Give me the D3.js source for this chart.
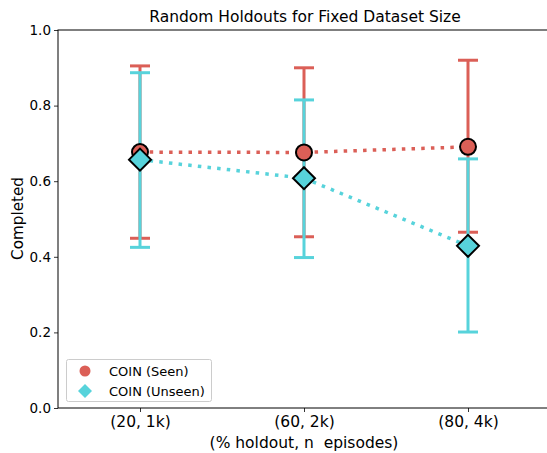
<!DOCTYPE html>
<html><head><meta charset="utf-8">
<script src="https://cdn.jsdelivr.net/npm/d3@7"></script>
<style>body{margin:0;background:#fff}text{font-family:"DejaVu Sans",sans-serif;fill:#000}</style>
</head><body>
<script>
const categories = ["(20, 1k)", "(60, 2k)", "(80, 4k)"];
const seenMean = [0.677, 0.676, 0.691];
const seenLow = [0.449, 0.453, 0.465];
const seenHigh = [0.905, 0.900, 0.920];
const unseenMean = [0.657, 0.608, 0.429];
const unseenLow = [0.425, 0.398, 0.201];
const unseenHigh = [0.887, 0.815, 0.659];
const yTicks = [0.0, 0.2, 0.4, 0.6, 0.8, 1.0];
const seriesNames = ["COIN (Seen)", "COIN (Unseen)"];
const colors = ["#db5f57", "#57d3db"];

const W = 547, H = 453;
const svg = d3.select("body").append("svg").attr("width", W).attr("height", H);
const x = d3.scaleLinear().domain([-0.5, 2.5]).range([58, 550]);
const y = d3.scaleLinear().domain([0, 1]).range([408, 30]);

const series = [
  {name: seriesNames[0], mean: seenMean, low: seenLow, high: seenHigh, color: colors[0], shape: "circle"},
  {name: seriesNames[1], mean: unseenMean, low: unseenLow, high: unseenHigh, color: colors[1], shape: "diamond"}
];

// error bars
series.forEach(s => {
  const g = svg.append("g");
  categories.forEach((c, i) => {
    g.append("line").attr("x1", x(i)).attr("x2", x(i)).attr("y1", y(s.low[i])).attr("y2", y(s.high[i]))
      .attr("stroke", s.color).attr("stroke-width", 3);
    [s.low[i], s.high[i]].forEach(v => {
      g.append("line").attr("x1", x(i) - 10).attr("x2", x(i) + 10).attr("y1", y(v)).attr("y2", y(v))
        .attr("stroke", s.color).attr("stroke-width", 3);
    });
  });
});

// lines + markers
const line = d3.line().x((d, i) => x(i)).y(d => y(d));
series.forEach(s => {
  svg.append("path").attr("d", line(s.mean)).attr("fill", "none").attr("stroke", s.color)
    .attr("stroke-width", 3.5).attr("stroke-dasharray", "3.5,6.2");
});
series.forEach(s => {
  s.mean.forEach((v, i) => {
    if (s.shape === "circle") {
      svg.append("circle").attr("cx", x(i)).attr("cy", y(v)).attr("r", 8)
        .attr("fill", s.color).attr("stroke", "#000").attr("stroke-width", 2);
    } else {
      const r = 11;
      svg.append("path").attr("d", `M${x(i)},${y(v)-r}L${x(i)+r},${y(v)}L${x(i)},${y(v)+r}L${x(i)-r},${y(v)}Z`)
        .attr("fill", s.color).attr("stroke", "#000").attr("stroke-width", 2).attr("stroke-linejoin", "miter");
    }
  });
});

// axes
const yAxis = svg.append("g").attr("transform", "translate(58,0)")
  .call(d3.axisLeft(y).tickValues(yTicks).tickFormat(d3.format(".1f")).tickSize(4).tickPadding(3));
yAxis.select(".domain").remove();
yAxis.selectAll("text").style("font-size", "13.5px").style("font-family", "DejaVu Sans");
yAxis.selectAll("line").attr("stroke", "#000").attr("stroke-width", 0.8);

const xAxis = svg.append("g").attr("transform", "translate(0,408)")
  .call(d3.axisBottom(x).tickValues([0, 1, 2]).tickFormat(i => categories[i]).tickSize(4).tickPadding(4));
xAxis.select(".domain").remove();
xAxis.selectAll("text").style("font-size", "15.5px").style("font-family", "DejaVu Sans");
xAxis.selectAll("line").attr("stroke", "#000").attr("stroke-width", 0.8);

// spines
svg.append("rect").attr("x", 58).attr("y", 30).attr("width", 492).attr("height", 378)
  .attr("fill", "none").attr("stroke", "#000").attr("stroke-width", 1);

// labels
svg.append("text").attr("x", 305).attr("y", 22).attr("text-anchor", "middle").style("font-size", "15.5px").text("Random Holdouts for Fixed Dataset Size");
svg.append("text").attr("x", 304).attr("y", 448).attr("text-anchor", "middle").style("font-size", "15.5px").text("(% holdout, n  episodes)").attr("xml:space", "preserve").style("white-space", "pre");
svg.append("text").attr("transform", "translate(22.5,218.5) rotate(-90)").attr("text-anchor", "middle").style("font-size", "15.2px").text("Completed");

// legend
const lg = svg.append("g");
lg.append("rect").attr("x", 66.5).attr("y", 359.5).attr("width", 145).attr("height", 42).attr("rx", 2)
  .attr("fill", "#fff").attr("fill-opacity", 0.8).attr("stroke", "#ccc").attr("stroke-width", 1);
lg.append("circle").attr("cx", 85).attr("cy", 371).attr("r", 5.5).attr("fill", colors[0]);
const dr = 7;
lg.append("path").attr("d", `M85,${391-dr}L${85+dr},391L85,${391+dr}L${85-dr},391Z`).attr("fill", colors[1]);
lg.append("text").attr("x", 109).attr("y", 375.5).style("font-size", "13px").text(seriesNames[0]);
lg.append("text").attr("x", 109).attr("y", 395.5).style("font-size", "13px").text(seriesNames[1]);
</script>
</body></html>
